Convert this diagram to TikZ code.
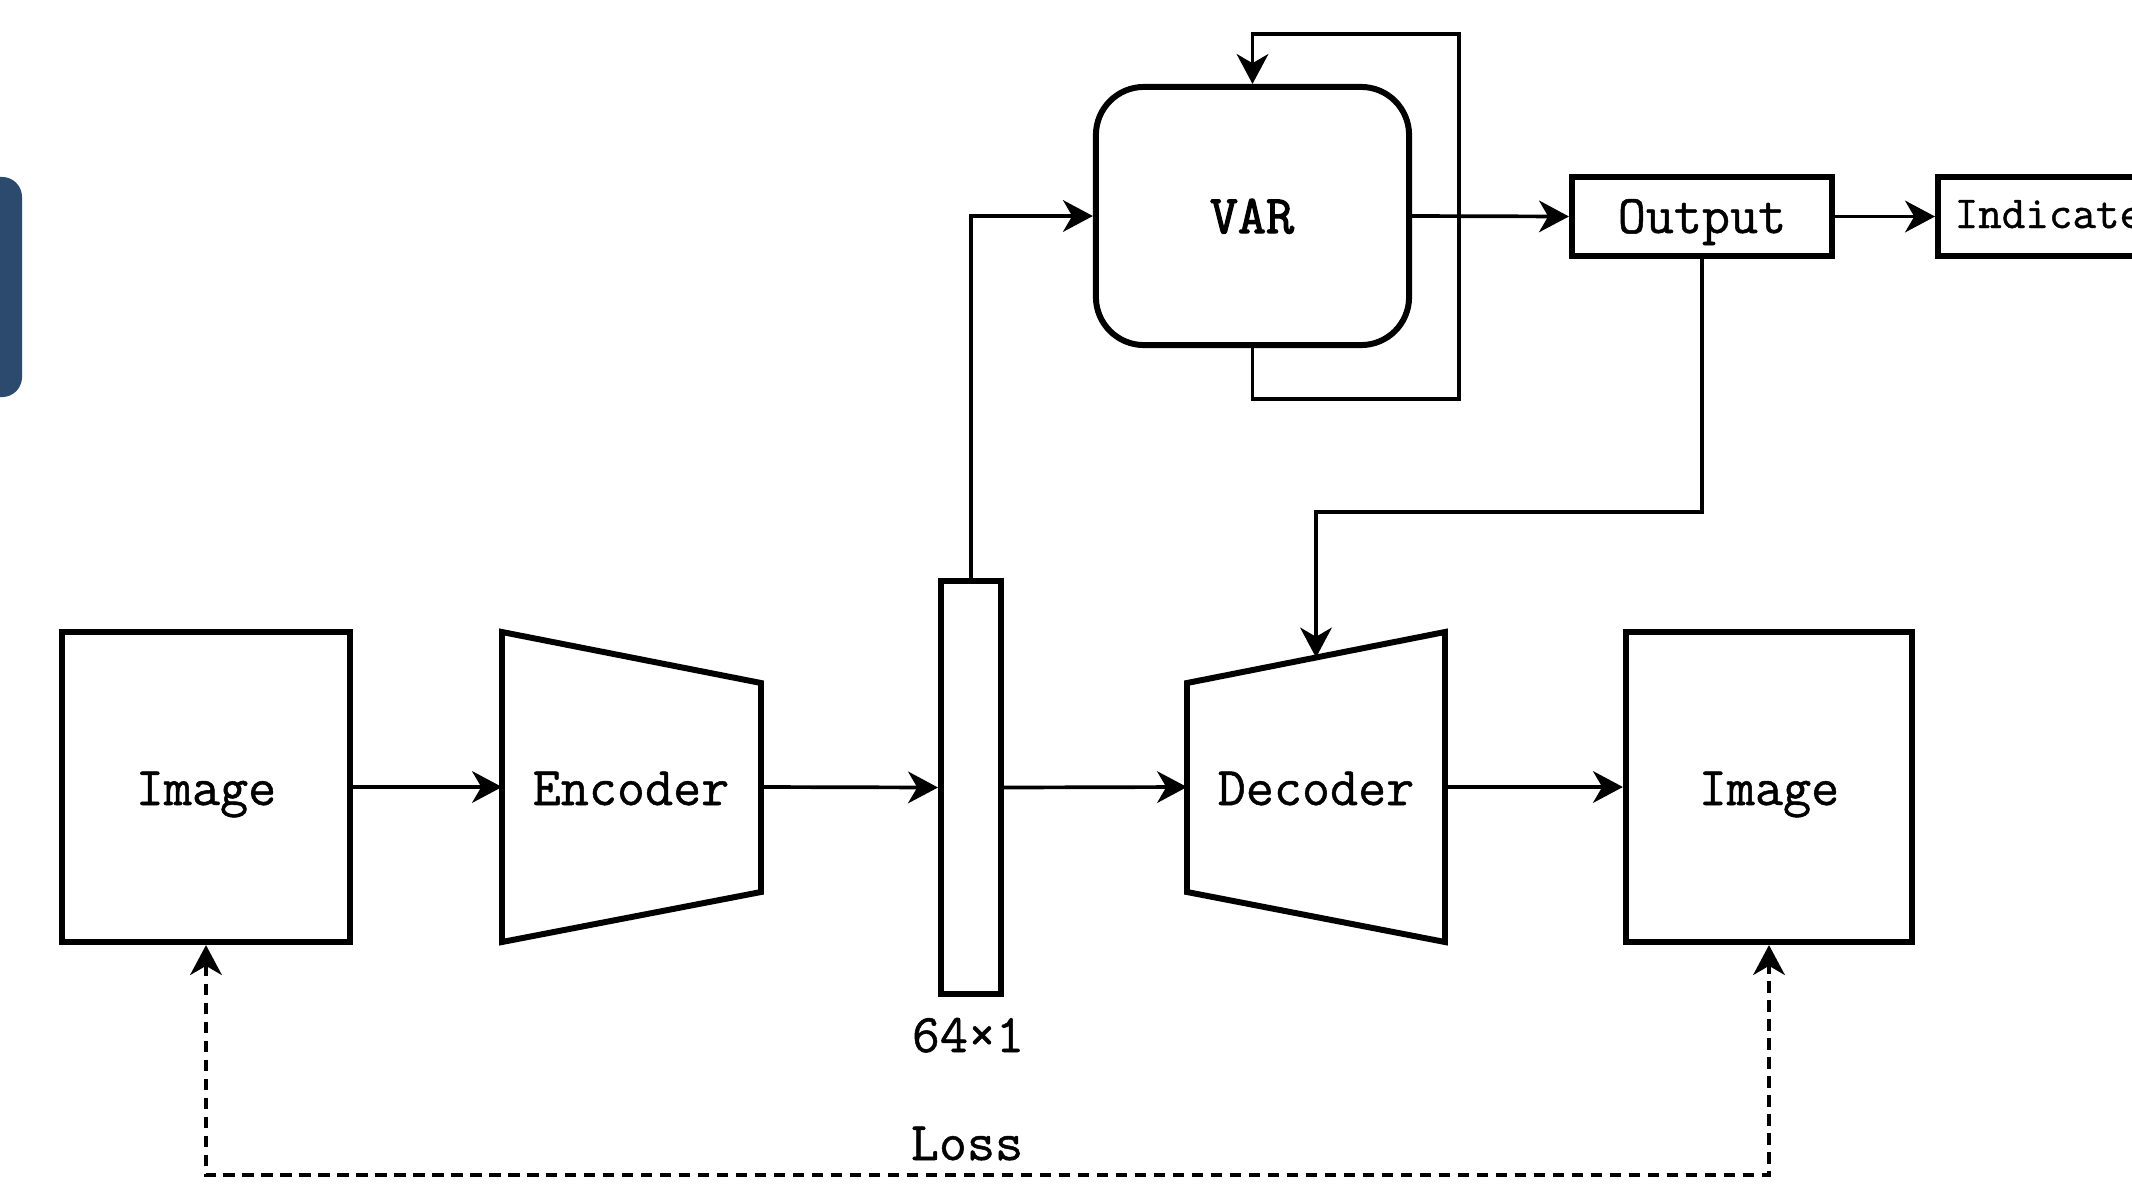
\documentclass[tikz,border=0pt]{standalone}
\usepackage{fontspec}
\newfontfamily\labelfont{Latin Modern Mono}[FakeBold=0.9]
\newfontfamily\headfont{Latin Modern Mono}[FakeBold=2.2]
\usetikzlibrary{arrows.meta}
\definecolor{panelblue}{HTML}{2B4A6E}

\begin{document}
\begin{tikzpicture}[x=0.01cm,y=-0.01cm,
  box/.style={draw, line width=1.7pt, line join=miter, fill=white, inner sep=0pt},
  lbl/.style={font=\labelfont\fontsize{15.5}{17}\selectfont, inner sep=0pt, anchor=base},
  smalllbl/.style={font=\labelfont\fontsize{13}{15}\selectfont, inner sep=0pt, anchor=base west},
  head/.style={Stealth[length=8.5pt,width=9pt,inset=2.6pt]},
  conn/.style={line width=1.05pt, -{Stealth[length=8.5pt,width=9pt,inset=2.6pt]}},
  lossline/.style={line width=1.05pt, dash pattern=on 3.2pt off 2.2pt,
    {Stealth[length=8.5pt,width=9pt,inset=2.6pt]}-{Stealth[length=8.5pt,width=9pt,inset=2.6pt]}}]

% canvas
\useasboundingbox (0,0) rectangle (2132,1184);
\fill[white] (0,0) rectangle (2132,1184);
\begin{scope}
\clip (0,0) rectangle (2132,1184);

% side panel at the left edge
\node[fill=panelblue, draw=none, rounded corners=0.2cm, minimum width=1.22cm,
      minimum height=2.2cm, inner sep=0pt] (panel) at (-39,287) {};

% input and reconstructed images
\node[box, minimum width=2.88cm, minimum height=3.10cm] (img1) at (206,787) {};
\node[lbl] (img1txt) at (206,805) {Image};
\node[box, minimum width=2.86cm, minimum height=3.10cm] (img2) at (1769,787) {};
\node[lbl] (img2txt) at (1769,805) {Image};

% encoder trapezoid
\draw[box] (502,632) -- (761,683) -- (761,892) -- (502,942) -- cycle;
\coordinate (encW) at (502,787);
\coordinate (encE) at (761,787);
\node[lbl] (enc) at (631,805) {Encoder};

% decoder trapezoid
\draw[box] (1187,683) -- (1445,632) -- (1445,942) -- (1187,892) -- cycle;
\coordinate (decW) at (1187,787);
\coordinate (decE) at (1445,787);
\coordinate (decTop) at (1316,657.5);
\node[lbl] (dec) at (1316,805) {Decoder};

% latent vector
\node[box, minimum width=0.60cm, minimum height=4.13cm] (bar) at (971,787.5) {};
\node[lbl] (barlbl) at (968,1052) {64×1};

% VAR model, output and indicator boxes
\node[box, rounded corners=0.48cm, minimum width=3.13cm, minimum height=2.58cm] (var) at (1252.5,216) {};
\node[lbl, font=\headfont\fontsize{15.5}{17}\selectfont] (vartxt) at (1252,233) {VAR};
\node[box, minimum width=2.60cm, minimum height=0.79cm] (out) at (1702,216.5) {};
\node[lbl] (outtxt) at (1702,233) {Output};
\node[box, anchor=west, minimum width=3.2cm, minimum height=0.79cm] (ind) at (1935,216.5) {};
\node[smalllbl] (indtxt) at (1954,228) {Indicate};

% main pipeline
\draw[conn] (img1.east) -- (encW);
\draw[conn] (encE) -- (bar.west);
\draw[conn] (bar.east) -- (decW);
\draw[conn] (decE) -- (img2.west);

% latent to VAR, VAR to output, output to indicator
\draw[conn] (bar.north) |- (var.west);
\draw[conn] (var.east) -- (out.west);
\draw[conn] (out.east) -- (ind.west);

% VAR recurrence loop
\coordinate (loopR) at (1459,34);
\draw[conn] (var.south) -- ++(0,51) -| (loopR) -| (var.north);

% forecast fed to decoder
\draw[conn] (out.south) -- ++(0,253) -| (decTop);

% reconstruction loss
\draw[lossline] (img1.south) -- ++(0,230) -| (img2.south);
\node[lbl] (loss) at (967,1160) {Loss};
\end{scope}
\end{tikzpicture}
\end{document}
